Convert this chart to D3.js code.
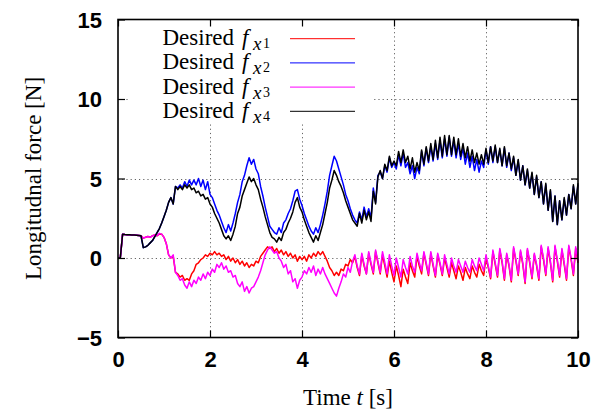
<!DOCTYPE html>
<html>
<head>
<meta charset="utf-8">
<script src="https://cdn.jsdelivr.net/npm/d3@7"></script>
<style>
  body { margin: 0; background: #fff; }
  svg { display: block; }
</style>
</head>
<body>
<div id="chart"></div>
<script>
const timeStep = 0.05;

const fx1 = [
  0, 0, 1.5, 1.48, 1.47, 1.46, 1.45, 1.44, 1.43, 1.42, 1.40, 1.25, 1.3, 1.35, 1.3, 1.4, 1.45, 1.4, 1.5, 1.5,
  1.3, 0.9, 0.2, 0.0, 0.1, -0.9, -1.0, -1.2, -1.1, -1.4, -1.3, -1.4, -1.0, -0.8, -0.4, -0.3, -0.1, 0.0, 0.2, 0.1,
  0.3, 0.2, 0.4, 0.2, 0.3, 0.1, 0.2, -0.1, 0.1, -0.2, 0.0, -0.3, -0.1, -0.4, -0.2, -0.5, -0.3, -0.6, -0.4, -0.5,
  -0.2, -0.3, 0.1, 0.3, 0.5, 0.7, 0.6, 0.7, 0.4, 0.6, 0.3, 0.5, 0.2, 0.4, 0.1, 0.3, 0.0, 0.2, -0.2, 0.1,
  -0.1, 0.1, -0.2, 0.2, 0.0, 0.3, 0.1, 0.4, 0.2, 0.4, 0.1, -0.2, -0.6, -0.8, -1.1, -0.9, -1.1, -0.7, -0.8, -0.4,
  -0.5, -0.1, -0.3, 0.1, -0.6, -1.1, 0.2, -0.5, -1.0, 0.3, -0.4, -1.0, 0.4, -0.3, -1.0, 0.2, -0.5, -1.2, -0.2, -0.9,
  -1.5, -0.5, -1.1, -1.8, -0.7, -1.2, -1.6, -0.3, -0.8, -1.2, 0.1, -0.5, -1.0, 0.3, -0.4, -1.1, 0.3, -0.5, -1.2, 0.2,
  -0.4, -1.1, 0.0, -0.6, -1.2, -0.3, -0.8, -1.3, -0.5, -0.9, -1.4, -0.6, -1.0, -1.3, -0.5, -0.9, -1.2, -0.4, -0.8, -1.1,
  0.0, -0.6, -1.3, 0.4, -0.4, -1.2, 0.5, -0.3, -1.4, 0.2, -0.5, -1.5, 0.6, -0.2, -1.1, 0.4, -0.4, -1.6, 0.5, -0.3,
  -1.3, 0.2, -0.5, -1.4, 0.7, -0.1, -1.1, 0.6, -0.3, -1.5, 0.7, -0.2, -1.2, 0.5, -0.4, -1.4, 0.7, -0.1, -1.1, 0.6,
  -0.3
];

const fx2 = [
  0, 0, 1.5, 1.48, 1.47, 1.46, 1.45, 1.44, 1.43, 1.42, 1.40, 0.65, 0.7, 0.8, 0.95, 1.1, 1.35, 1.6, 1.85, 2.2,
  2.6, 3.0, 3.5, 3.8, 3.4, 4.5, 4.4, 4.6, 4.4, 4.8, 4.5, 4.9, 4.6, 4.9, 4.6, 5.0, 4.5, 4.9, 4.3, 4.8,
  4.0, 3.8, 3.4, 3.0, 2.7, 2.3, 1.9, 1.6, 2.1, 1.7, 2.2, 2.8, 3.5, 4.0, 4.8, 5.2, 5.8, 6.3, 5.9, 6.2,
  5.6, 5.3, 4.5, 3.9, 3.2, 2.6, 2.0, 1.8, 1.6, 1.5, 1.9, 1.6, 2.2, 2.4, 2.8, 3.1, 3.6, 4.2, 4.3, 3.7,
  3.3, 2.8, 2.4, 2.0, 1.7, 1.5, 1.9, 1.6, 2.1, 2.7, 3.4, 4.2, 5.2, 5.8, 6.4, 6.1, 5.6, 5.1, 4.6, 4.0,
  3.6, 3.1, 2.7, 2.4, 2.2, 2.9, 2.4, 3.2, 2.6, 3.1, 2.5, 4.4, 3.5, 5.2, 5.4, 5.0, 5.8, 5.4, 6.3, 5.7,
  6.0, 5.6, 6.5, 5.8, 6.6, 5.7, 6.0, 5.3, 5.8, 5.0, 5.7, 5.3, 6.7, 5.8, 6.9, 6.0, 7.0, 6.1, 7.2, 6.2,
  7.4, 6.3, 7.5, 6.4, 7.6, 6.4, 7.4, 6.3, 7.2, 6.2, 6.9, 5.9, 6.6, 5.7, 6.4, 5.5, 6.2, 5.4, 6.1, 5.7,
  6.8, 5.9, 7.0, 6.0, 7.0, 6.0, 6.8, 5.8, 6.9, 5.7, 6.6, 5.5, 6.3, 5.2, 6.1, 4.9, 5.8, 4.6, 5.5, 4.4,
  5.3, 4.0, 5.1, 3.8, 4.8, 3.4, 4.6, 3.0, 4.2, 2.3, 3.9, 2.1, 3.6, 2.4, 3.7, 2.7, 4.0, 3.1, 4.5, 3.4,
  4.6
];

const fx3 = [
  0, 0, 1.5, 1.48, 1.47, 1.46, 1.45, 1.44, 1.43, 1.42, 1.40, 1.25, 1.3, 1.35, 1.3, 1.4, 1.45, 1.4, 1.55, 1.5,
  1.3, 0.9, 0.2, 0.0, 0.2, -0.9, -1.1, -1.4, -1.3, -1.7, -1.9, -1.5, -1.8, -1.4, -1.6, -1.2, -1.4, -1.0, -1.3, -0.9,
  -1.1, -0.7, -0.9, -0.4, -0.6, -0.3, -0.7, -0.5, -0.9, -0.8, -1.2, -1.1, -1.6, -1.8, -1.5, -2.1, -1.8, -2.2, -1.9, -1.8,
  -1.5, -1.2, -0.8, -0.3, 0.2, 0.5, 0.7, 0.5, 0.3, 0.4, 0.0, -0.2, -0.6, -0.4, -1.0, -0.8, -1.5, -1.3, -1.9, -1.4,
  -1.2, -0.8, -1.0, -0.6, -0.9, -0.5, -1.1, -0.7, -1.0, -0.6, -1.0, -1.3, -1.6, -1.9, -2.2, -2.4, -1.9, -1.5, -1.0, -1.2,
  -0.6, -0.9, -0.2, 0.2, -0.5, -1.0, 0.3, -0.4, -1.0, 0.4, -0.3, -0.9, 0.5, -0.2, -0.9, 0.4, -0.3, -1.0, 0.2, -0.5,
  -1.1, 0.0, -0.6, -1.2, -0.1, -0.6, -1.0, 0.1, -0.5, -0.9, 0.3, -0.3, -0.8, 0.4, -0.3, -1.0, 0.4, -0.4, -1.1, 0.3,
  -0.3, -1.0, 0.2, -0.4, -1.0, 0.0, -0.5, -0.9, -0.1, -0.5, -0.9, -0.2, -0.6, -0.9, -0.1, -0.5, -0.8, 0.0, -0.4, -0.8,
  0.2, -0.5, -1.2, 0.5, -0.3, -1.1, 0.6, -0.2, -1.3, 0.3, -0.4, -1.4, 0.7, -0.1, -1.0, 0.5, -0.3, -1.5, 0.6, -0.2,
  -1.2, 0.3, -0.4, -1.3, 0.8, 0.0, -1.0, 0.7, -0.2, -1.4, 0.8, -0.1, -1.1, 0.6, -0.3, -1.3, 0.8, 0.0, -1.0, 0.7,
  -0.2
];

const fx4 = [
  0, 0, 1.5, 1.48, 1.47, 1.46, 1.45, 1.44, 1.43, 1.42, 1.40, 0.65, 0.7, 0.8, 0.95, 1.1, 1.35, 1.6, 1.85, 2.2,
  2.6, 3.0, 3.5, 3.8, 3.4, 4.5, 4.3, 4.5, 4.3, 4.6, 4.4, 4.6, 4.3, 4.4, 4.1, 4.2, 3.9, 4.0, 3.7, 3.8,
  3.4, 3.2, 2.8, 2.5, 2.2, 1.8, 1.4, 1.2, 1.4, 1.1, 1.5, 2.0, 2.8, 3.2, 3.9, 4.3, 4.7, 5.1, 4.8, 5.0,
  4.6, 4.3, 3.7, 3.2, 2.6, 2.1, 1.6, 1.3, 1.2, 1.0, 1.3, 1.1, 1.6, 1.8, 2.2, 2.5, 2.9, 3.5, 3.8, 3.2,
  2.9, 2.4, 2.0, 1.6, 1.3, 1.0, 1.4, 1.1, 1.6, 2.1, 2.8, 3.5, 4.4, 4.9, 5.5, 5.2, 4.8, 4.5, 4.1, 3.6,
  3.2, 2.8, 2.4, 2.2, 2.0, 2.8, 2.2, 3.0, 2.4, 2.9, 2.3, 4.2, 3.4, 5.1, 5.5, 5.0, 5.9, 5.5, 6.4, 5.8,
  6.1, 5.8, 6.7, 6.0, 6.8, 6.0, 6.4, 5.6, 6.3, 5.4, 6.0, 5.5, 6.8, 5.9, 7.0, 6.1, 7.2, 6.2, 7.4, 6.3,
  7.6, 6.4, 7.7, 6.5, 7.7, 6.5, 7.6, 6.5, 7.5, 6.4, 7.2, 6.3, 7.0, 6.1, 6.8, 6.0, 6.6, 5.9, 6.5, 5.9,
  6.9, 6.0, 7.0, 6.1, 7.1, 6.0, 6.9, 5.8, 7.0, 5.8, 6.6, 5.6, 6.4, 5.2, 6.2, 4.9, 5.8, 4.6, 5.6, 4.4,
  5.4, 4.0, 5.2, 3.8, 4.8, 3.4, 4.7, 3.0, 4.3, 2.3, 3.9, 2.1, 3.6, 2.4, 3.8, 2.7, 4.0, 3.1, 4.6, 3.4,
  4.7
];

const seriesNames = ["1", "2", "3", "4"];
const seriesColors = ["#ff0000", "#0000ff", "#ff00ff", "#000000"];
const seriesValues = [fx1, fx2, fx3, fx4];

const xTicks = [0, 2, 4, 6, 8, 10];
const yTicks = [-5, 0, 5, 10, 15];

const W = 603, H = 415;
const margin = { top: 19.5, right: 25, bottom: 77.5, left: 118 };

const svg = d3.select("#chart").append("svg")
  .attr("width", W)
  .attr("height", H);

const x = d3.scaleLinear().domain([0, 10]).range([margin.left, W - margin.right]);
const y = d3.scaleLinear().domain([-5, 15]).range([H - margin.bottom, margin.top]);

// grid
const grid = svg.append("g")
  .attr("stroke", "#666")
  .attr("stroke-width", 1)
  .attr("stroke-dasharray", "1.2,3");
grid.selectAll(".gx")
  .data(xTicks.slice(1, -1))
  .join("line")
  .attr("x1", d => Math.round(x(d)) + 0.5).attr("x2", d => Math.round(x(d)) + 0.5)
  .attr("y1", y(15)).attr("y2", y(-5));
grid.selectAll(".gy")
  .data(yTicks.slice(1, -1))
  .join("line")
  .attr("y1", d => Math.round(y(d)) + 0.5).attr("y2", d => Math.round(y(d)) + 0.5)
  .attr("x1", x(0)).attr("x2", x(10));

// key background hides the grid behind it
svg.append("rect")
  .attr("x", 130).attr("y", y(15) + 1)
  .attr("width", 242).attr("height", 103)
  .attr("fill", "#fff");

// data
const line = d3.line()
  .x((d, i) => x(i * timeStep))
  .y(d => y(d));

svg.append("g")
  .selectAll("path")
  .data(seriesValues)
  .join("path")
  .attr("d", d => line(d))
  .attr("fill", "none")
  .attr("stroke", (d, i) => seriesColors[i])
  .attr("stroke-width", 1.5)
  .attr("stroke-linejoin", "round");

// axes, ticks drawn inward on all four sides
const tickFont = "'Liberation Sans', Arial, sans-serif";

const xAxis = svg.append("g")
  .attr("transform", `translate(0,${y(-5)})`)
  .call(d3.axisBottom(x).tickValues(xTicks).tickFormat(d3.format("d"))
    .tickSizeInner(-7).tickSizeOuter(0).tickPadding(14));
const yAxis = svg.append("g")
  .attr("transform", `translate(${x(0)},0)`)
  .call(d3.axisLeft(y).tickValues(yTicks).tickFormat(d3.format("d"))
    .tickSizeInner(-7).tickSizeOuter(0).tickPadding(16));
const xTop = svg.append("g")
  .attr("transform", `translate(0,${y(15)})`)
  .call(d3.axisTop(x).tickValues(xTicks).tickFormat("").tickSizeInner(-7).tickSizeOuter(0));
const yRight = svg.append("g")
  .attr("transform", `translate(${x(10)},0)`)
  .call(d3.axisRight(y).tickValues(yTicks).tickFormat("").tickSizeInner(-7).tickSizeOuter(0));

[xAxis, yAxis, xTop, yRight].forEach(g => {
  g.select(".domain").remove();
  g.selectAll(".tick line").attr("stroke", "#000").attr("stroke-width", 1.2);
  g.selectAll("text")
    .attr("font-family", tickFont)
    .attr("font-weight", "bold")
    .attr("font-size", 22)
    .attr("fill", "#000");
});
xAxis.selectAll("text").attr("dy", "0.72em");
yAxis.selectAll("text").attr("dy", "0.36em");

// border
svg.append("rect")
  .attr("x", x(0)).attr("y", y(15))
  .attr("width", x(10) - x(0)).attr("height", y(-5) - y(15))
  .attr("fill", "none")
  .attr("stroke", "#000")
  .attr("stroke-width", 1.6);

// axis labels
const serif = "'Liberation Serif', 'Times New Roman', serif";

const xl = svg.append("text")
  .attr("x", (x(0) + x(10)) / 2)
  .attr("y", 405)
  .attr("text-anchor", "middle")
  .attr("font-family", serif)
  .attr("font-size", 23);
xl.append("tspan").text("Time ");
xl.append("tspan").attr("font-style", "italic").text("t");
xl.append("tspan").text(" [s]");

svg.append("text")
  .attr("transform", `translate(41,${(y(15) + y(-5)) / 2}) rotate(-90)`)
  .attr("text-anchor", "middle")
  .attr("font-family", serif)
  .attr("font-size", 23)
  .text("Longitudnal force [N]");

// key
const key = svg.append("g")
  .attr("font-family", serif)
  .attr("fill", "#000");
const rowY = i => 38.7 + i * 24.2;

seriesNames.forEach((name, i) => {
  const base = rowY(i) + 6.5;
  key.append("text")
    .attr("x", 234).attr("y", base)
    .attr("text-anchor", "end")
    .attr("font-size", 23)
    .text("Desired");
  key.append("text")
    .attr("x", 242).attr("y", base)
    .attr("font-size", 23)
    .attr("font-style", "italic")
    .text("f");
  key.append("text")
    .attr("x", 253).attr("y", base + 5)
    .attr("font-size", 19)
    .attr("font-style", "italic")
    .text("x");
  key.append("text")
    .attr("x", 263).attr("y", base + 3)
    .attr("font-size", 14)
    .text(name);

  key.append("line")
    .attr("x1", 290).attr("x2", 355)
    .attr("y1", rowY(i)).attr("y2", rowY(i))
    .attr("stroke", seriesColors[i])
    .attr("stroke-width", 1);
});
</script>
</body>
</html>
